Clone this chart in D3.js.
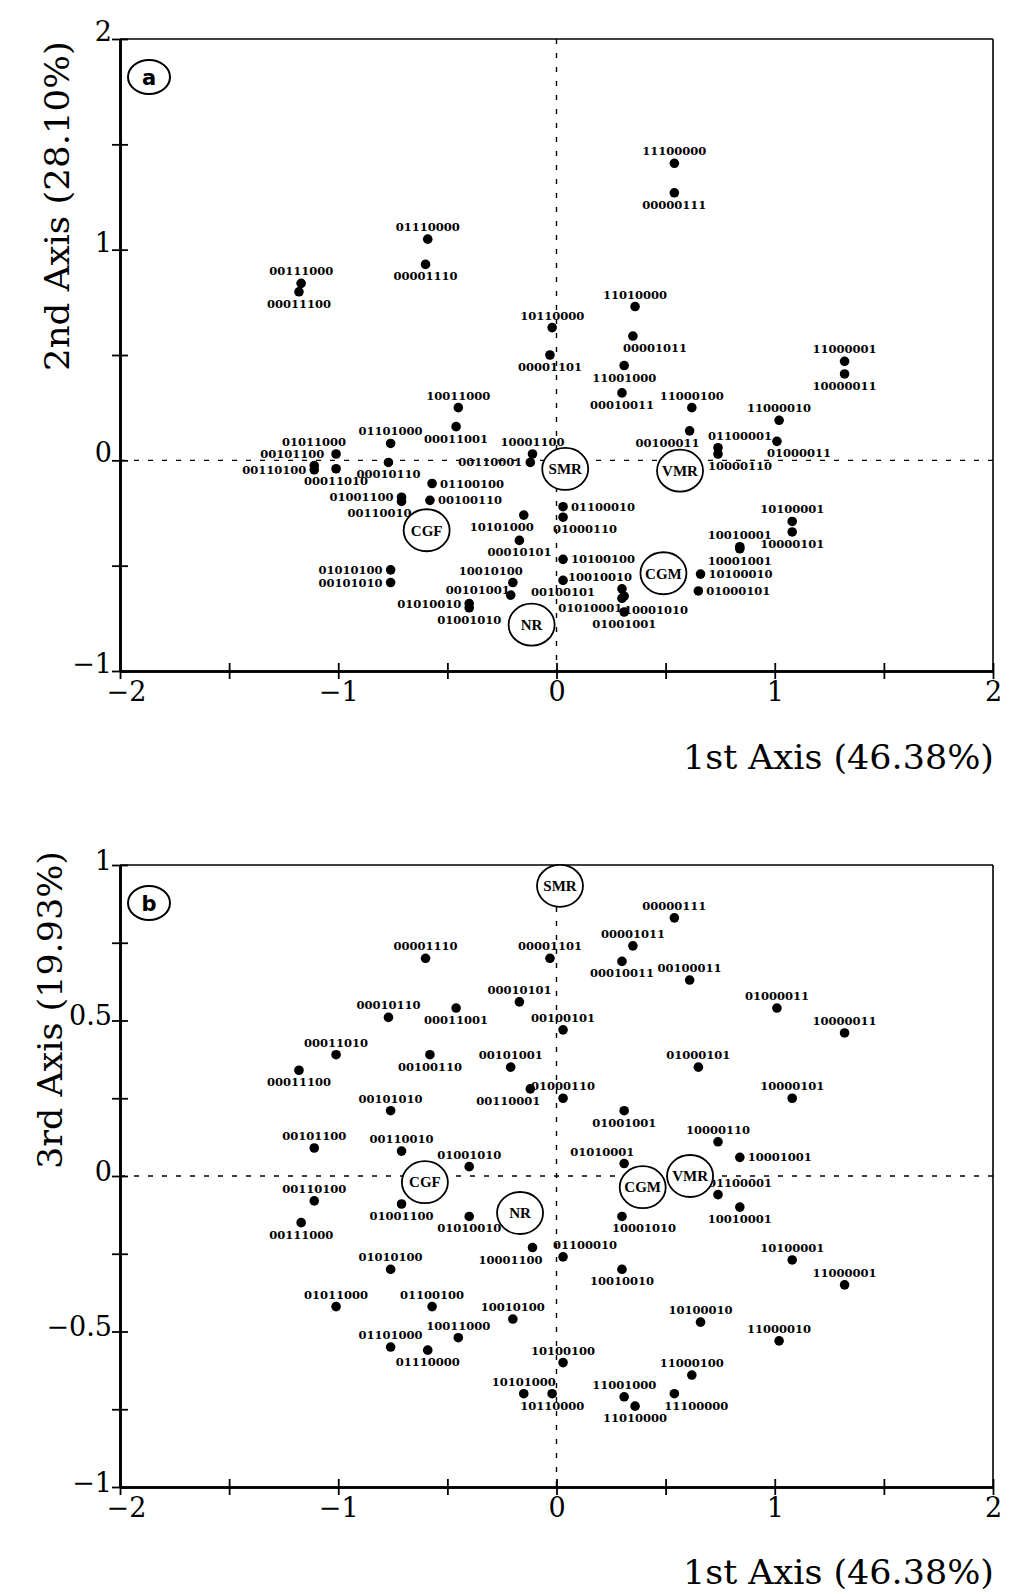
<!DOCTYPE html>
<html>
<head>
<meta charset="utf-8">
<script src="https://cdn.jsdelivr.net/npm/d3@7"></script>
<style>
  body { margin: 0; background: #fff; }
  svg { display: block; }
  .code { font-family: "DejaVu Serif", serif; font-weight: bold; font-size: 11.5px; fill: #000; }
  .tick-label text { font-family: "DejaVu Serif", serif; font-size: 27px; fill: #000; }
  .axis-title { font-family: "DejaVu Serif", serif; font-size: 33px; fill: #000; }
  .group-name { font-family: "Liberation Serif", serif; font-weight: bold; font-size: 15px; }
</style>
</head>
<body>
<div id="chart"></div>
<script>
// 56 three-of-eight codes
const codes = [
  "11100000","11010000","11001000","11000100","11000010","11000001",
  "10110000","10101000","10100100","10100010","10100001",
  "10011000","10010100","10010010","10010001",
  "10001100","10001010","10001001","10000110","10000101","10000011",
  "01110000","01101000","01100100","01100010","01100001",
  "01011000","01010100","01010010","01010001",
  "01001100","01001010","01001001","01000110","01000101","01000011",
  "00111000","00110100","00110010","00110001",
  "00101100","00101010","00101001","00100110","00100101","00100011",
  "00011100","00011010","00011001","00010110","00010101","00010011",
  "00001110","00001101","00001011","00000111"
];

// 1st axis scores (shared by both panels)
const axis1 = [
  0.54, 0.36, 0.31, 0.62, 1.02, 1.32,
  -0.02, -0.15, 0.03, 0.66, 1.08,
  -0.45, -0.20, 0.30, 0.84,
  -0.11, 0.30, 0.84, 0.74, 1.08, 1.32,
  -0.59, -0.76, -0.57, 0.03, 0.74,
  -1.01, -0.76, -0.40, 0.31,
  -0.71, -0.40, 0.31, 0.03, 0.65, 1.01,
  -1.17, -1.11, -0.71, -0.12,
  -1.11, -0.76, -0.21, -0.58, 0.03, 0.61,
  -1.18, -1.01, -0.46, -0.77, -0.17, 0.30,
  -0.60, -0.03, 0.35, 0.54
];

// 2nd axis scores (panel a)
const axis2 = [
  1.41, 0.73, 0.45, 0.25, 0.19, 0.47,
  0.63, -0.26, -0.47, -0.54, -0.29,
  0.25, -0.58, -0.61, -0.41,
  0.03, -0.655, -0.42, 0.03, -0.34, 0.41,
  1.05, 0.08, -0.11, -0.22, 0.06,
  0.03, -0.52, -0.68, -0.645,
  -0.175, -0.70, -0.72, -0.27, -0.62, 0.09,
  0.84, -0.045, -0.195, -0.01,
  -0.025, -0.58, -0.64, -0.19, -0.57, 0.14,
  0.80, -0.04, 0.16, -0.01, -0.38, 0.32,
  0.93, 0.50, 0.59, 1.27
];

// 3rd axis scores (panel b)
const axis3 = [
  -0.70, -0.74, -0.71, -0.64, -0.53, -0.35,
  -0.70, -0.70, -0.60, -0.47, -0.27,
  -0.52, -0.46, -0.30, -0.10,
  -0.23, -0.13, 0.06, 0.11, 0.25, 0.46,
  -0.56, -0.55, -0.42, -0.26, -0.06,
  -0.42, -0.30, -0.13, 0.04,
  -0.09, 0.03, 0.21, 0.25, 0.35, 0.54,
  -0.15, -0.08, 0.08, 0.28,
  0.09, 0.21, 0.35, 0.39, 0.47, 0.63,
  0.34, 0.39, 0.54, 0.51, 0.56, 0.69,
  0.70, 0.70, 0.74, 0.83
];

// where each code label sits around its dot
const labelPosA = [
  "n","n","s","n","n","n",
  "n","sw","e","e","n",
  "n","nw","nw","n",
  "n","be","s","se","s","s",
  "n","n","e","e","ne",
  "nw","w","w","bw",
  "w","s","s","se","e","se",
  "n","w","sw","w",
  "nw","w","wn","e","s","sw",
  "s","s","s","s","s","s",
  "s","s","se","s"
];
const labelPosB = [
  "se","s","n","n","n","n",
  "s","n","n","n","n",
  "n","n","s","s",
  "sw","se","e","n","n","n",
  "s","n","n","ne","ne",
  "n","n","s","nw",
  "s","n","s","n","n","n",
  "s","n","n","sw",
  "n","n","n","s","n","n",
  "s","n","s","n","n","s",
  "n","n","n","n"
];

// supplementary groups (circled)
const groups = ["CGF", "SMR", "VMR", "CGM", "NR"];
const groupA1 = [-0.595, 0.04, 0.566, 0.49, -0.114];
const groupA2 = [-0.332, -0.041, -0.049, -0.536, -0.78];
const groupB1 = [-0.603, 0.016, 0.612, 0.395, -0.167];
const groupB3 = [-0.02, 0.933, 0.0, -0.036, -0.119];

const xTitle = "1st Axis (46.38%)";

const svg = d3.select("#chart").append("svg")
  .attr("width", 1009)
  .attr("height", 1594);

const offsets = {
  n:  { dx: 0,   dy: -8, anchor: "middle" },
  s:  { dx: 0,   dy: 16, anchor: "middle" },
  ne: { dx: -10, dy: -8, anchor: "start" },
  nw: { dx: 10,  dy: -8, anchor: "end" },
  se: { dx: -10, dy: 16, anchor: "start" },
  sw: { dx: 10,  dy: 16, anchor: "end" },
  be: { dx: 2,   dy: 16, anchor: "start" },
  bw: { dx: -2,  dy: 16, anchor: "end" },
  e:  { dx: 8,   dy: 4,  anchor: "start" },
  w:  { dx: -8,  dy: 4,  anchor: "end" },
  wn: { dx: -1,  dy: -1, anchor: "end" }
};

const fmt = d3.format("");

function drawPanel(p) {
  const x = d3.scaleLinear().domain([-2, 2]).range([120, 993]);
  const y = d3.scaleLinear().domain(p.yDomain).range([p.bottom, p.top]);
  const g = svg.append("g");

  // thin top and right frame
  g.append("line").attr("x1", x(-2)).attr("x2", x(2)).attr("y1", p.top).attr("y2", p.top)
    .attr("stroke", "#000").attr("stroke-width", 1.6);
  g.append("line").attr("x1", x(2)).attr("x2", x(2)).attr("y1", p.top).attr("y2", p.bottom)
    .attr("stroke", "#000").attr("stroke-width", 1.6);

  // dashed zero lines
  g.append("line").attr("x1", x(-2)).attr("x2", x(2)).attr("y1", y(0)).attr("y2", y(0))
    .attr("stroke", "#000").attr("stroke-width", 1.4).attr("stroke-dasharray", "5,9");
  g.append("line").attr("x1", x(0)).attr("x2", x(0)).attr("y1", p.top).attr("y2", p.bottom)
    .attr("stroke", "#000").attr("stroke-width", 1.4).attr("stroke-dasharray", "5,9");

  // crossing tick marks on left and bottom axes
  const xTickVals = d3.range(-2, 2.01, 0.5);
  const l1 = g.append("g").attr("transform", `translate(${x(-2)},0)`)
    .call(d3.axisLeft(y).tickValues(p.yTicks).tickSize(8).tickSizeOuter(0).tickFormat(""));
  const l2 = g.append("g").attr("transform", `translate(${x(-2)},0)`)
    .call(d3.axisRight(y).tickValues(p.yTicks).tickSize(8).tickSizeOuter(0).tickFormat(""));
  const b1 = g.append("g").attr("transform", `translate(0,${p.bottom})`)
    .call(d3.axisBottom(x).tickValues(xTickVals).tickSize(8).tickSizeOuter(0).tickFormat(""));
  const b2 = g.append("g").attr("transform", `translate(0,${p.bottom})`)
    .call(d3.axisTop(x).tickValues(xTickVals).tickSize(8).tickSizeOuter(0).tickFormat(""));
  [l1, l2, b1, b2].forEach(a => {
    a.selectAll(".tick line").attr("stroke-width", 1.8);
    a.select(".domain").attr("stroke-width", 2.6);
  });

  // tick labels
  const yl = g.append("g").attr("class", "tick-label").attr("transform", `translate(${x(-2)},0)`)
    .call(d3.axisLeft(y).tickValues(p.yLabels).tickFormat(fmt).tickSize(0).tickPadding(8));
  yl.select(".domain").remove();
  yl.selectAll("text").attr("dy", p.yLabelDy);
  const xl = g.append("g").attr("class", "tick-label").attr("transform", `translate(0,${p.bottom})`)
    .call(d3.axisBottom(x).tickValues([-2, -1, 0, 1, 2]).tickFormat(fmt).tickSize(0).tickPadding(6));
  xl.select(".domain").remove();
  xl.selectAll("text").attr("dy", "0.9em");
  xl.selectAll(".tick").filter(d => d === -2).select("text").attr("dx", 6);
  xl.attr("font-family", null).attr("font-size", null);
  yl.attr("font-family", null).attr("font-size", null);

  // axis titles
  g.append("text").attr("class", "axis-title")
    .attr("x", 994).attr("y", p.xTitleY)
    .attr("text-anchor", "end")
    .attr("textLength", 311).attr("lengthAdjust", "spacingAndGlyphs")
    .text(xTitle);
  g.append("text").attr("class", "axis-title")
    .attr("transform", `translate(${p.yTitleX},${p.yTitleCY}) rotate(-90)`)
    .attr("text-anchor", "middle")
    .attr("textLength", p.yTitleLen).attr("lengthAdjust", "spacingAndGlyphs")
    .text(p.yTitle);

  // points
  codes.forEach((c, i) => {
    const px = x(axis1[i]);
    const py = y(p.vals[i]);
    g.append("circle").attr("cx", px).attr("cy", py).attr("r", 4.8).attr("fill", "#000");
    const o = offsets[p.pos[i]];
    g.append("text").attr("class", "code")
      .attr("x", px + o.dx).attr("y", py + o.dy)
      .attr("text-anchor", o.anchor)
      .text(c);
  });

  // circled group markers
  groups.forEach((name, i) => {
    const cx = x(p.gx[i]);
    const cy = y(p.gy[i]);
    g.append("ellipse").attr("cx", cx).attr("cy", cy).attr("rx", 23).attr("ry", 21)
      .attr("fill", "#fff").attr("stroke", "#000").attr("stroke-width", 1.8);
    g.append("text").attr("class", "group-name")
      .attr("x", cx).attr("y", cy).attr("dy", "0.35em")
      .attr("text-anchor", "middle")
      .text(name);
  });

  // panel letter
  g.append("ellipse").attr("cx", 149).attr("cy", p.top + 38).attr("rx", 21).attr("ry", 17)
    .attr("fill", "none").attr("stroke", "#000").attr("stroke-width", 2);
  g.append("text").attr("x", 149).attr("y", p.top + 38).attr("dy", "0.36em")
    .attr("text-anchor", "middle")
    .style("font-family", "'DejaVu Sans', sans-serif").style("font-weight", "bold").style("font-size", "21px")
    .text(p.letter);
}

drawPanel({
  top: 39, bottom: 671, yDomain: [-1, 2],
  yTicks: d3.range(-1, 2.01, 0.5), yLabels: [-1, 0, 1, 2], yLabelDy: "0.05em",
  vals: axis2, pos: labelPosA, gx: groupA1, gy: groupA2,
  letter: "a", yTitle: "2nd Axis (28.10%)", yTitleX: 69, yTitleCY: 206, yTitleLen: 330,
  xTitleY: 769
});

drawPanel({
  top: 865, bottom: 1487, yDomain: [-1, 1],
  yTicks: d3.range(-1, 1.01, 0.25), yLabels: [-1, -0.5, 0, 0.5, 1], yLabelDy: "0.15em",
  vals: axis3, pos: labelPosB, gx: groupB1, gy: groupB3,
  letter: "b", yTitle: "3rd Axis (19.93%)", yTitleX: 62, yTitleCY: 1010, yTitleLen: 318,
  xTitleY: 1584
});
</script>
</body>
</html>
